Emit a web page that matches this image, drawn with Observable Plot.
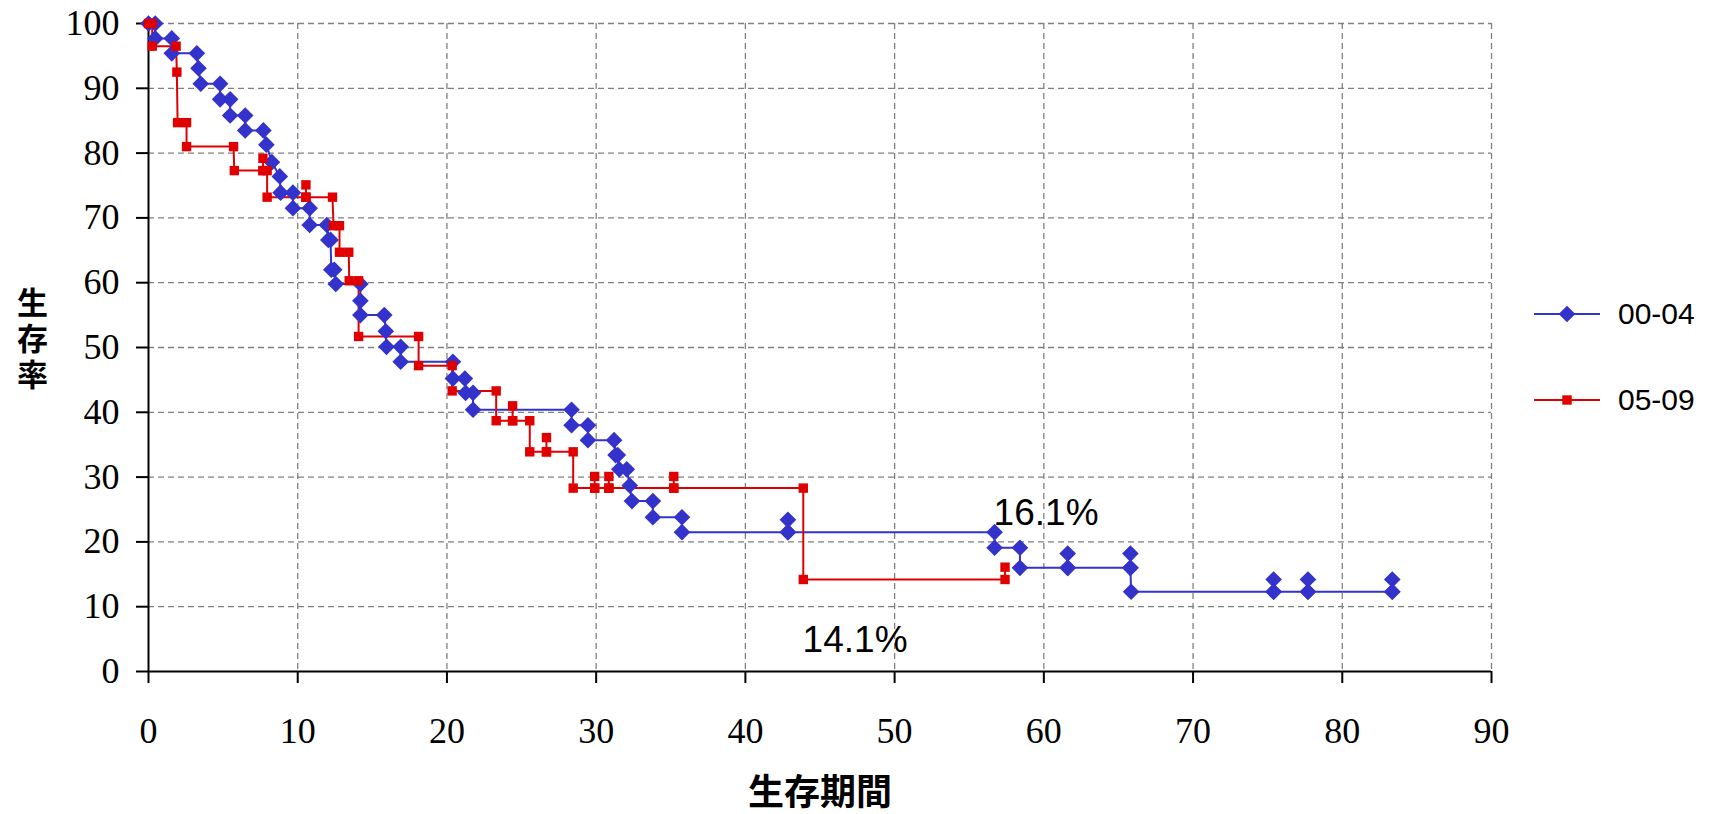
<!DOCTYPE html>
<html>
<head>
<meta charset="utf-8">
<script src="https://cdn.jsdelivr.net/npm/d3@7"></script>
<script src="https://cdn.jsdelivr.net/npm/@observablehq/plot@0.6"></script>
<style>
  html, body { margin: 0; padding: 0; background: #fff; }
  #wrap { position: relative; width: 1711px; height: 814px; }
  #legend { position: absolute; left: 1530px; top: 294px; font-family: "Liberation Sans", Arial, sans-serif; font-size: 30px; color: #000; }
  .item { position: absolute; left: 0; display: flex; align-items: center; white-space: nowrap; }
</style>
</head>
<body>
<div id="wrap"><div id="legend"></div></div>
<script>
// ---- data ----
const seriesNames = ["00-04", "05-09"];
const seriesColors = ["#3333cc", "#e00000"];

// 00-04 (path points incl. censor spikes)
const blueX = [0, 0.45, 0.45, 1.56, 1.56, 3.24, 3.35, 3.5, 4.8, 4.8, 5.47, 5.47, 6.48, 6.48, 7.7, 7.9, 8.27, 8.8, 8.85, 9.68, 9.68, 10.8, 10.8, 11.95, 12.05, 12.2, 12.25, 12.45, 12.55, 14.2, 14.2, 14.2, 15.8, 15.9, 15.95, 16.9, 16.9, 20.4, 20.4, 21.2, 21.25, 21.75, 21.75, 28.35, 28.35, 29.45, 29.45, 31.2, 31.3, 31.45, 31.55, 32.05, 32.25, 32.4, 33.8, 33.8, 35.75, 35.75, 42.85, 42.85, 42.85, 56.7, 56.7, 58.4, 58.4, 61.6, 61.6, 61.6, 65.8, 65.8, 65.8, 65.85, 75.4, 75.4, 75.4, 77.7, 77.7, 77.7, 83.35, 83.35, 83.35];
const blueY = [100, 100, 97.7, 97.7, 95.4, 95.4, 93.1, 90.7, 90.7, 88.3, 88.3, 85.8, 85.8, 83.5, 83.5, 81.3, 78.6, 76.4, 73.9, 73.9, 71.5, 71.5, 68.9, 68.9, 66.6, 66.6, 62.0, 62.0, 59.8, 59.8, 57.2, 55.0, 55.0, 52.5, 50.1, 50.1, 47.8, 47.8, 45.2, 45.2, 43.0, 43.0, 40.4, 40.4, 38.0, 38.0, 35.7, 35.7, 33.4, 33.4, 31.2, 31.2, 28.7, 26.3, 26.3, 23.8, 23.8, 21.5, 21.5, 23.4, 21.5, 21.5, 19.1, 19.1, 16.0, 16.0, 18.2, 16.0, 16.0, 18.2, 16.0, 12.3, 12.3, 14.2, 12.3, 12.3, 14.2, 12.3, 12.3, 14.2, 12.3];

// 05-09
const redX = [0, 0.25, 0.25, 1.85, 1.9, 1.95, 2.55, 2.55, 5.7, 5.75, 7.67, 7.67, 7.67, 7.95, 7.95, 10.55, 10.55, 10.55, 12.33, 12.4, 12.8, 12.8, 13.42, 13.45, 14.08, 14.08, 18.1, 18.1, 20.35, 20.35, 23.3, 23.3, 24.4, 24.4, 24.4, 25.55, 25.55, 26.67, 26.67, 26.67, 28.46, 28.46, 29.9, 29.9, 29.9, 30.85, 30.85, 30.85, 35.2, 35.2, 35.2, 43.88, 43.88, 57.4, 57.4];
const redY = [100, 100, 96.5, 96.5, 92.5, 84.7, 84.7, 81.0, 81.0, 77.3, 77.3, 79.2, 77.3, 77.3, 73.2, 73.2, 75.1, 73.2, 73.2, 68.8, 68.8, 64.7, 64.7, 60.3, 60.3, 51.7, 51.7, 47.2, 47.2, 43.3, 43.3, 38.7, 38.7, 41.0, 38.7, 38.7, 33.9, 33.9, 36.1, 33.9, 33.9, 28.3, 28.3, 30.1, 28.3, 28.3, 30.1, 28.3, 28.3, 30.1, 28.3, 28.3, 14.2, 14.2, 16.1];

const xTicks = [0, 10, 20, 30, 40, 50, 60, 70, 80, 90];
const yTicks = [0, 10, 20, 30, 40, 50, 60, 70, 80, 90, 100];
const xTitle = "生存期間";
const yTitle = "生存率";
const notes = ["16.1%", "14.1%"];
const noteX = [60.15, 47.35];
const noteY = [24.5, 4.85];

// ---- build ----
const blue = blueX.map((x, i) => ({x, y: blueY[i]}));
const red = redX.map((x, i) => ({x, y: redY[i]}));
const noteRows = notes.map((t, i) => ({t, x: noteX[i], y: noteY[i]}));
const gridX = xTicks.filter(d => d > 0);
const gridY = yTicks.filter(d => d > 0);

const chart = Plot.plot({
  width: 1711,
  height: 814,
  marginLeft: 148,
  marginRight: 220,
  marginTop: 23,
  marginBottom: 143,
  style: {fontFamily: "'Liberation Serif', 'Times New Roman', serif", fontSize: "36px", background: "transparent", color: "#000"},
  x: {domain: [0, 90]},
  y: {domain: [0, 100]},
  marks: [
    Plot.ruleX(gridX, {stroke: "#808080", strokeWidth: 1.3, strokeDasharray: "6,4"}),
    Plot.ruleY(gridY, {stroke: "#808080", strokeWidth: 1.3, strokeDasharray: "6,4"}),
    Plot.ruleX([0], {stroke: "#000", strokeWidth: 2}),
    Plot.ruleY([0], {stroke: "#000", strokeWidth: 2}),
    Plot.axisY({ticks: yTicks, tickSize: 12, tickPadding: 17, strokeWidth: 2, label: null, fontSize: 36}),
    Plot.axisX({ticks: xTicks, tickSize: 12, tickPadding: 34, strokeWidth: 2, label: null, fontSize: 36}),
    Plot.line(blue, {x: "x", y: "y", stroke: seriesColors[0], strokeWidth: 2}),
    Plot.line(red, {x: "x", y: "y", stroke: seriesColors[1], strokeWidth: 2}),
    Plot.dot(blue, {x: "x", y: "y", symbol: "diamond2", r: 7.5, fill: seriesColors[0], stroke: "none"}),
    Plot.dot(red, {x: "x", y: "y", symbol: "square", r: 5.3, fill: seriesColors[1], stroke: "none"}),
    Plot.text(noteRows, {x: "x", y: "y", text: "t", fontSize: 37, fontFamily: "'Liberation Sans', Arial, sans-serif", fill: "#000", textAnchor: "middle", lineAnchor: "middle"}),
    Plot.text([yTitle], {frameAnchor: "left", dx: -116, dy: -17, text: d => d, fontSize: 31, fontWeight: "bold", fontFamily: "'Noto Sans CJK JP', sans-serif", textAnchor: "middle", lineAnchor: "middle", fill: "#000",
      render: (index, scales, values, dims, context, next) => {
        const g = next(index, scales, values, dims, context);
        d3.select(g).selectAll("text")
          .attr("dy", null)
          .style("writing-mode", "vertical-rl")
          .style("text-orientation", "upright")
          .attr("letter-spacing", 5);
        return g;
      }}),
    Plot.text([xTitle], {frameAnchor: "bottom", dy: 122, text: d => d, fontSize: 36, fontWeight: "bold", fontFamily: "'Noto Sans CJK JP', sans-serif", textAnchor: "middle", lineAnchor: "middle", fill: "#000"})
  ]
});
const wrap = document.getElementById("wrap");
wrap.insertBefore(chart, wrap.firstChild);

// legend (HTML overlay)
const legend = d3.select("#legend");
const tops = [0, 86];
seriesNames.forEach((name, i) => {
  const item = legend.append("div").attr("class", "item").style("top", tops[i] + "px");
  const svg = item.append("svg").attr("width", 70).attr("height", 40).style("margin-right", "18px");
  svg.append("line").attr("x1", 4).attr("x2", 70).attr("y1", 20).attr("y2", 20).attr("stroke", seriesColors[i]).attr("stroke-width", 2);
  if (i === 0) {
    svg.append("path").attr("d", d3.symbol(d3.symbolDiamond2, Math.PI * 7.5 * 7.5)()).attr("transform", "translate(37,20)").attr("fill", seriesColors[i]);
  } else {
    svg.append("path").attr("d", d3.symbol(d3.symbolSquare, Math.PI * 5.3 * 5.3)()).attr("transform", "translate(37,20)").attr("fill", seriesColors[i]);
  }
  item.append("span").text(name);
});
</script>
</body>
</html>
